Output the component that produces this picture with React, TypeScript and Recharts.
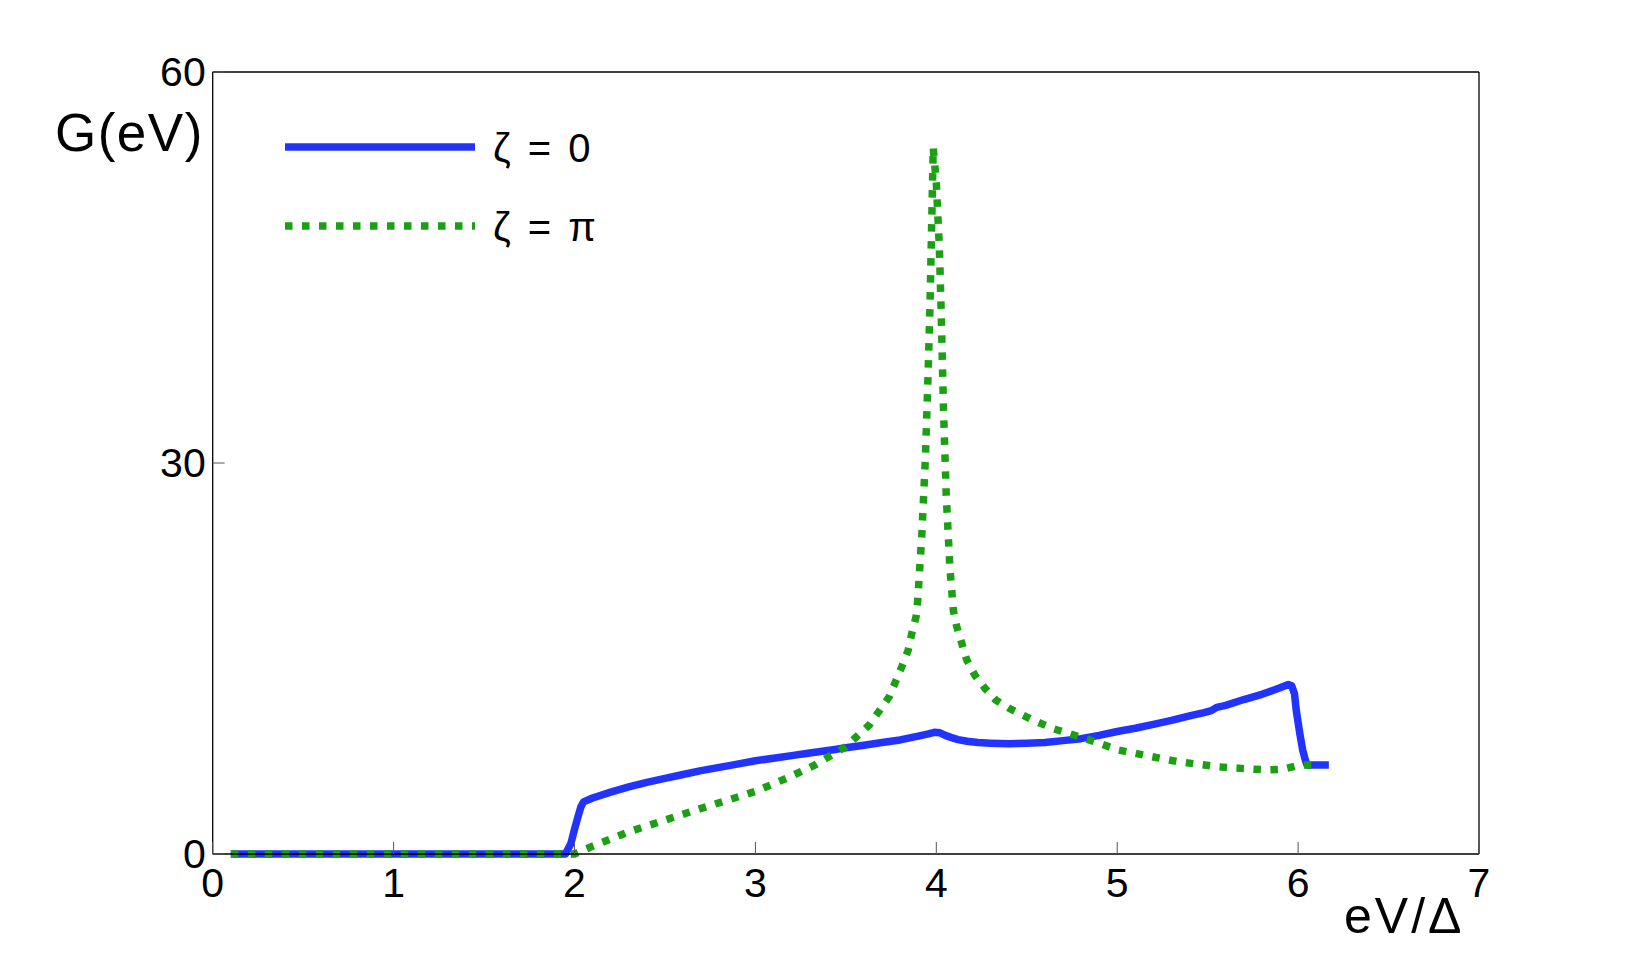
import React from "react";
import { LineChart, Line, XAxis, YAxis, Legend } from "recharts";

const xTicks = [0, 1, 2, 3, 4, 5, 6, 7];
const yTicks = [0, 30, 60];

const blueX = [0.1, 1.95, 1.98, 2.0, 2.02, 2.035, 2.05, 2.1, 2.2, 2.3, 2.4, 2.5, 2.6, 2.7, 2.8, 2.9, 3.0, 3.1, 3.2, 3.3, 3.43, 3.5, 3.6, 3.7, 3.8, 3.9, 3.95, 3.99, 4.02, 4.05, 4.08, 4.12, 4.17, 4.23, 4.3, 4.4, 4.5, 4.6, 4.7, 4.8, 4.9, 5.0, 5.1, 5.2, 5.3, 5.4, 5.48, 5.52, 5.55, 5.6, 5.7, 5.8, 5.9, 5.946, 5.965, 5.98, 5.99, 6.01, 6.025, 6.04, 6.05, 6.17];
const blueY = [0, 0, 0.8, 1.9, 2.9, 3.6, 4.0, 4.3, 4.75, 5.15, 5.5, 5.8, 6.1, 6.4, 6.65, 6.9, 7.15, 7.35, 7.55, 7.75, 8.0, 8.15, 8.35, 8.55, 8.75, 9.05, 9.2, 9.34, 9.3, 9.1, 8.95, 8.78, 8.65, 8.55, 8.5, 8.45, 8.5, 8.55, 8.7, 8.85, 9.1, 9.4, 9.65, 9.95, 10.25, 10.6, 10.85, 11.0, 11.25, 11.4, 11.85, 12.25, 12.75, 13.0, 12.9, 12.3, 11.0, 9.2, 8.0, 7.2, 6.83, 6.83];

const greenX = [0.1, 2.0, 2.1, 2.3, 2.5, 2.7, 3.0, 3.17, 3.33, 3.5, 3.63, 3.74, 3.81, 3.845, 3.864, 3.888, 3.897, 3.92, 3.94, 3.955, 3.965, 3.975, 3.983, 4.0, 4.017, 4.027, 4.04, 4.055, 4.075, 4.094, 4.113, 4.14, 4.168, 4.214, 4.27, 4.33, 4.4, 4.53, 4.65, 4.79, 4.9, 5.0, 5.18, 5.33, 5.55, 5.7, 5.826, 5.917, 6.01, 6.12];
const greenY = [0, 0, 0.6, 1.7, 2.6, 3.5, 4.8, 5.8, 6.83, 8.24, 9.9, 12.07, 14.4, 15.65, 16.9, 18.2, 19.4, 24.5, 30.5, 37.0, 42.0, 48.7, 54.2, 51.5, 46.5, 41.6, 34.0, 27.5, 22.0, 18.7, 17.45, 16.2, 14.9, 13.7, 12.7, 11.8, 11.2, 10.3, 9.6, 9.0, 8.5, 8.0, 7.5, 7.1, 6.7, 6.55, 6.45, 6.5, 6.83, 6.83];

const blueData = blueX.map((x, i) => ({ x, y: blueY[i] }));
const greenData = greenX.map((x, i) => ({ x, y: greenY[i] }));

const FONT = '"Liberation Sans", Arial, Helvetica, sans-serif';
const TICK_COLOR = "#555";
const TICK_LEN = 12;

const BottomTick = (props: any) => {
  const { x, y, payload } = props;
  return (
    <g>
      <line x1={x} y1={y} x2={x} y2={y - TICK_LEN} stroke={TICK_COLOR} strokeWidth={1} />
      <text x={x} y={y + 43} textAnchor="middle" fontFamily={FONT} fontSize={41} fill="#000">
        {payload.value}
      </text>
    </g>
  );
};

const LeftTick = (props: any) => {
  const { x, y, payload } = props;
  return (
    <g>
      <line x1={x} y1={y} x2={x + TICK_LEN} y2={y} stroke={TICK_COLOR} strokeWidth={1} />
      <text x={x - 7} y={y + 14} textAnchor="end" fontFamily={FONT} fontSize={41} fill="#000">
        {payload.value}
      </text>
    </g>
  );
};

const TopTick = (props: any) => {
  const { x, y } = props;
  return <line x1={x} y1={y} x2={x} y2={y + TICK_LEN} stroke={TICK_COLOR} strokeWidth={1} />;
};

const RightTick = (props: any) => {
  const { x, y } = props;
  return <line x1={x} y1={y} x2={x - TICK_LEN} y2={y} stroke={TICK_COLOR} strokeWidth={1} />;
};

const renderLegend = (props: any) => {
  const payload = props.payload || [];
  return (
    <svg width={340} height={150} style={{ display: "block" }}>
      {payload.map((p: any, i: number) => {
        const cy = 39 + i * 79;
        const dashed = p.payload && p.payload.strokeDasharray;
        return (
          <g key={i}>
            <line
              x1={7}
              y1={cy}
              x2={197}
              y2={cy}
              stroke={p.color}
              strokeWidth={7.5}
              strokeDasharray={dashed ? "7.5 9.5" : undefined}
            />
            <text x={215} y={cy + 15} fontFamily={FONT} fontSize={40} wordSpacing={6} fill="#000">
              {p.value}
            </text>
          </g>
        );
      })}
    </svg>
  );
};

export default function App() {
  return (
    <div style={{ width: 1618, height: 945, background: "#fff" }}>
      <LineChart
        width={1618}
        height={945}
        margin={{ top: 63, right: 146, bottom: 69, left: 144.7 }}
        style={{ background: "#fff" }}
      >
        <XAxis
          xAxisId="bottom"
          dataKey="x"
          type="number"
          domain={[0, 7]}
          ticks={xTicks}
          interval={0}
          allowDuplicatedCategory={false}
          tickSize={0}
          tickMargin={0}
          tick={<BottomTick />}
          tickLine={false}
          axisLine={{ stroke: "#000", strokeWidth: 1.3 }}
          height={30}
          label={{
            content: () => (
              <text x={1336} y={925} fontFamily={FONT} fontSize={50} letterSpacing={3} fill="#000">
                eV/Δ
              </text>
            ),
          }}
        />
        <XAxis
          xAxisId="top"
          orientation="top"
          dataKey="x"
          type="number"
          domain={[0, 7]}
          ticks={xTicks}
          interval={0}
          tickSize={0}
          tickMargin={0}
          tick={<TopTick />}
          tickLine={false}
          axisLine={{ stroke: "#000", strokeWidth: 1.3 }}
          height={1}
        />
        <YAxis
          yAxisId="left"
          type="number"
          domain={[0, 60]}
          ticks={yTicks}
          interval={0}
          tickSize={0}
          tickMargin={0}
          tick={<LeftTick />}
          tickLine={false}
          axisLine={{ stroke: "#000", strokeWidth: 1.3 }}
          width={60}
          label={{
            content: () => (
              <text x={47} y={143} fontFamily={FONT} fontSize={53} letterSpacing={1.5} fill="#000">
                G(eV)
              </text>
            ),
          }}
        />
        <YAxis
          yAxisId="right"
          orientation="right"
          type="number"
          domain={[0, 60]}
          ticks={yTicks}
          interval={0}
          tickSize={0}
          tickMargin={0}
          tick={<RightTick />}
          tickLine={false}
          axisLine={{ stroke: "#000", strokeWidth: 1.3 }}
          width={1}
        />
        <Legend
          layout="vertical"
          align="center"
          verticalAlign="middle"
          content={renderLegend}
          wrapperStyle={{ left: 270, top: 100, width: 340, height: 150 }}
        />
        <Line
          xAxisId="bottom"
          yAxisId="left"
          data={blueData}
          dataKey="y"
          name="ζ = 0"
          type="linear"
          stroke="#2233ff"
          strokeWidth={7.5}
          strokeLinejoin="round"
          dot={false}
          activeDot={false}
          isAnimationActive={false}
          legendType="line"
        />
        <Line
          xAxisId="bottom"
          yAxisId="left"
          data={greenData}
          dataKey="y"
          name="ζ = π"
          type="linear"
          stroke="#1aa012"
          strokeWidth={7.5}
          strokeDasharray="7.5 9.5"
          dot={false}
          activeDot={false}
          isAnimationActive={false}
          legendType="line"
        />
      </LineChart>
    </div>
  );
}
